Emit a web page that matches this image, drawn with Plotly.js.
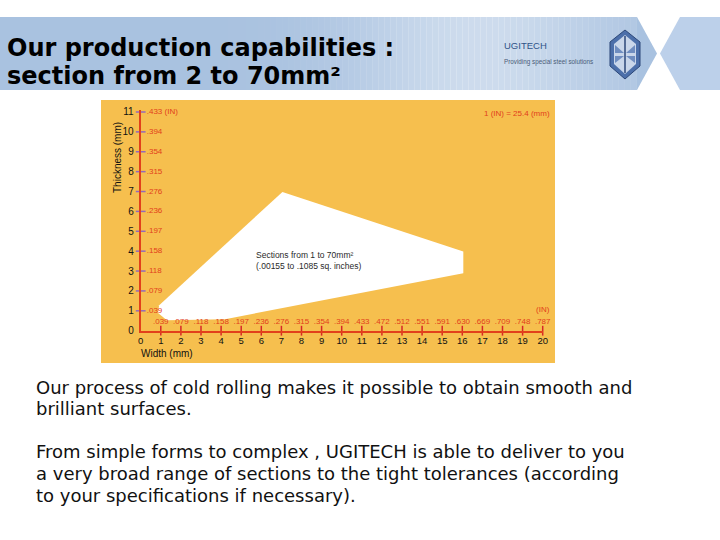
<!DOCTYPE html>
<html>
<head>
<meta charset="utf-8">
<script src="https://cdn.plot.ly/plotly-3.0.1.min.js"></script>
<style>html,body{margin:0;padding:0;background:#fff}#chart{width:720px;height:540px}</style>
</head>
<body>
<div id="chart"></div>
<script>
// ---- data ----
const widthTicksMm = [0,1,2,3,4,5,6,7,8,9,10,11,12,13,14,15,16,17,18,19,20];
const widthTickLabels = ['0','1','2','3','4','5','6','7','8','9','10','11','12','13','14','15','16','17','18','19','20'];
const widthInchPos = [1,2,3,4,5,6,7,8,9,10,11,12,13,14,15,16,17,18,19,20];
const widthInchLabels = ['.039','.079','.118','.158','.197','.236','.276','.315','.354','.394','.433','.472','.512','.551','.591','.630','.669','.709','.748','.787'];
const thickTicksMm = [0,1,2,3,4,5,6,7,8,9,10,11];
const thickTickLabels = ['0','1','2','3','4','5','6','7','8','9','10','11'];
const thickInchPos = [1,2,3,4,5,6,7,8,9,10,11];
const thickInchLabels = ['.039','.079','.118','.158','.197','.236','.276','.315','.354','.394','.433 (IN)'];
// capability region (width mm, thickness mm)
const regionWidth = [0.92, 7.05, 16.05, 16.05, 4.2, 1.3, 0.85];
const regionThick = [1.28, 6.98, 3.98, 2.89, 0.58, 0.52, 0.9];

// ---- helpers (pixel -> paper) ----
const X = px => px/720;
const Y = py => 1 - py/540;
const path = pts => 'M ' + pts.map(p => X(p[0]).toFixed(5)+','+Y(p[1]).toFixed(5)).join(' L ') + ' Z';

const RED = '#E2401B';
const ORANGE = '#F6BF4E';

const traces = [
  {x: regionWidth, y: regionThick, type:'scatter', mode:'lines', fill:'toself',
   fillcolor:'#FFFFFF', line:{width:0, color:'#FFFFFF', shape:'linear'}, hoverinfo:'skip'},
  {x: widthInchPos, y: widthInchPos.map(()=>0.45), type:'scatter', mode:'text',
   text: widthInchLabels, textposition:'middle center', cliponaxis:false,
   textfont:{family:'Liberation Sans, Arial', size:8, color:RED}, hoverinfo:'skip'},
  {x: thickInchPos.map(()=>0.3), y: thickInchPos, type:'scatter', mode:'text',
   text: thickInchLabels, textposition:'middle right', cliponaxis:false,
   textfont:{family:'Liberation Sans, Arial', size:8, color:RED}, hoverinfo:'skip'},
  {x: widthInchPos, y: widthInchPos.map(()=>0), type:'scatter', mode:'markers', cliponaxis:false,
   marker:{symbol:'line-ns-open', size:7, line:{width:1.5, color:RED}}, hoverinfo:'skip'},
  {x: thickInchPos.map(()=>0), y: thickInchPos, type:'scatter', mode:'markers', cliponaxis:false,
   marker:{symbol:'line-ew-open', size:7, line:{width:1.5, color:RED}}, hoverinfo:'skip'}
];

const shapes = [
  // orange picture background
  {type:'rect', xref:'paper', yref:'paper', x0:X(101), x1:X(555), y0:Y(363), y1:Y(100),
   fillcolor:ORANGE, line:{width:0}, layer:'below'},
  // header band
  {type:'path', xref:'paper', yref:'paper', path: path([[0,17],[637,17],[657,53.5],[637,90],[0,90]]),
   fillcolor:'#A9C2E0', line:{width:0}, layer:'below'},
  {type:'path', xref:'paper', yref:'paper', path: path([[680,17],[720,17],[720,90],[680,90],[660,53.5]]),
   fillcolor:'#BCD0EA', line:{width:0}, layer:'below'},
];
// smooth lighter sheen on the band (thin strips)
for (let sx = 150; sx < 637; sx += 6) {
  const c = sx + 3;
  const op = 0.42 * Math.exp(-Math.pow((c - 480) / 130, 2));
  shapes.push({type:'rect', xref:'paper', yref:'paper', x0:X(sx), x1:X(Math.min(sx+6.5, 637)), y0:Y(90), y1:Y(17),
    fillcolor:'#FFFFFF', opacity:op, line:{width:0}, layer:'below'});
}
// logo
shapes.push({type:'path', xref:'paper', yref:'paper', path: path([[625,30],[640,42],[640,66],[625,79],[610,66],[610,42]]),
  fillcolor:'#4C6FAA', line:{width:1, color:'#2C4778'}, layer:'above'});
shapes.push({type:'path', xref:'paper', yref:'paper', path: path([[625,35],[636,44],[636,64],[625,74],[614,64],[614,44]]),
  fillcolor:'#C9D6EA', line:{width:0}, layer:'above'});
shapes.push({type:'path', xref:'paper', yref:'paper', path: path([[615,45],[624,53],[615,53]]), fillcolor:'#6F8DC0', line:{width:0}, layer:'above'});
shapes.push({type:'path', xref:'paper', yref:'paper', path: path([[635,45],[626,53],[635,53]]), fillcolor:'#6F8DC0', line:{width:0}, layer:'above'});
shapes.push({type:'path', xref:'paper', yref:'paper', path: path([[615,63],[624,56],[615,56]]), fillcolor:'#6F8DC0', line:{width:0}, layer:'above'});
shapes.push({type:'path', xref:'paper', yref:'paper', path: path([[635,63],[626,56],[635,56]]), fillcolor:'#6F8DC0', line:{width:0}, layer:'above'});
shapes.push({type:'line', xref:'paper', yref:'paper', x0:X(625), x1:X(625), y0:Y(36), y1:Y(73), line:{width:1.5, color:'#2C4778'}, layer:'above'});

const bodyFont = {family:'DejaVu Sans', size:18, color:'#111111'};
const bodyLines = [
  ['Our process of cold rolling makes it possible to obtain smooth and', 387],
  ['brilliant surfaces.', 408],
  ['From simple forms to complex , UGITECH is able to deliver to you', 451],
  ['a very broad range of sections to the tight tolerances (according', 473],
  ['to your specifications if necessary).', 495]
];

const annotations = [
  {text:'Our production capabilities :', xref:'paper', yref:'paper', x:X(5), y:Y(48), xanchor:'left', yanchor:'middle',
   showarrow:false, font:{family:'DejaVu Sans', size:24, color:'#000', weight:'bold'}},
  {text:'section from 2 to 70mm²', xref:'paper', yref:'paper', x:X(5), y:Y(76), xanchor:'left', yanchor:'middle',
   showarrow:false, font:{family:'DejaVu Sans', size:24, color:'#000', weight:'bold'}},
  {text:'UGITECH', xref:'paper', yref:'paper', x:X(502), y:Y(45), xanchor:'left', yanchor:'middle',
   showarrow:false, font:{family:'Liberation Sans', size:9.5, color:'#2F5288'}},
  {text:'Providing special steel solutions', xref:'paper', yref:'paper', x:X(502), y:Y(62), xanchor:'left', yanchor:'middle',
   showarrow:false, font:{family:'Liberation Sans', size:6.3, color:'#4A5C78'}},
  {text:'1 (IN) = 25.4 (mm)', xref:'paper', yref:'paper', x:X(552), y:Y(113), xanchor:'right', yanchor:'middle',
   showarrow:false, font:{family:'Liberation Sans', size:8, color:RED}},
  {text:'(IN)', xref:'x', yref:'y', x:20, y:1.05, xanchor:'center', yanchor:'middle',
   showarrow:false, font:{family:'Liberation Sans', size:8, color:RED}},
  {text:'Sections from 1 to 70mm²<br>(.00155 to .1085 sq. inches)', xref:'x', yref:'y', x:5.62, y:3.53,
   xanchor:'left', yanchor:'middle', align:'left', showarrow:false,
   font:{family:'Liberation Sans', size:8.5, color:'#2A2A2A'}},
  {text:'Thickness (mm)', xref:'paper', yref:'paper', x:X(118), y:Y(158), textangle:-90,
   xanchor:'center', yanchor:'middle', showarrow:false, font:{family:'Liberation Sans', size:10, color:'#111'}},
  {text:'Width (mm)', xref:'paper', yref:'paper', x:X(139), y:Y(353.5), xanchor:'left', yanchor:'middle',
   showarrow:false, font:{family:'Liberation Sans', size:10, color:'#111'}}
];
bodyLines.forEach(l => annotations.push({text:l[0], xref:'paper', yref:'paper', x:X(34), y:Y(l[1]),
  xanchor:'left', yanchor:'middle', showarrow:false, font:bodyFont}));

const layout = {
  width:720, height:540, margin:{l:0,r:0,t:0,b:0},
  paper_bgcolor:'#FFFFFF', plot_bgcolor:'rgba(0,0,0,0)', showlegend:false,
  xaxis:{domain:[X(140.7), X(542.7)], range:[0,20], showline:true, linecolor:RED, linewidth:2,
    tickmode:'array', tickvals:widthTicksMm, ticktext:widthTickLabels, ticks:'', ticklabelstandoff:0,
    tickfont:{family:'Liberation Sans, Arial', size:9.5, color:'#111'}, showgrid:false, zeroline:false, fixedrange:true},
  yaxis:{domain:[Y(330.7), Y(110)], range:[0,11.1], showline:true, linecolor:RED, linewidth:2,
    tickmode:'array', tickvals:thickTicksMm, ticktext:thickTickLabels, ticks:'', ticklabelstandoff:3,
    tickfont:{family:'Liberation Sans, Arial', size:10, color:'#111'}, showgrid:false, zeroline:false, fixedrange:true},
  shapes: shapes, annotations: annotations
};

Plotly.newPlot('chart', traces, layout, {staticPlot:true, displayModeBar:false});
</script>
</body>
</html>
